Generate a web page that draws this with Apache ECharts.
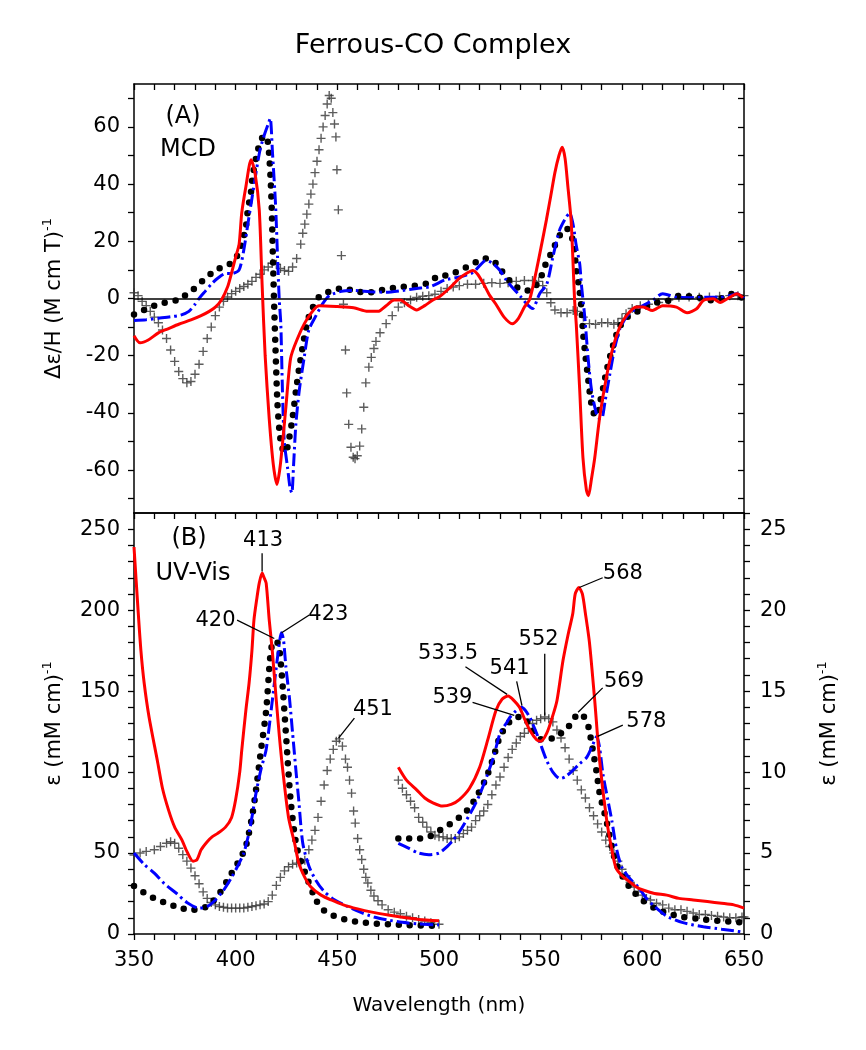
<!DOCTYPE html>
<html><head><meta charset="utf-8">
<script src="https://cdn.jsdelivr.net/npm/echarts@6/dist/echarts.min.js"></script>
<style>html,body{margin:0;padding:0;background:#fff}#c{width:866px;height:1050px}</style>
</head><body><div id="c"></div>
<script>
// ---------------- DATA ----------------
// Panel A: MCD  [wavelength nm, Δε/H]
const mcdRed = [[350,-13],[353,-15.5],[357,-14.5],[362,-12],[367,-10.5],[372,-9],[378,-7.5],[383,-6],[387,-4.5],[390,-3],[393,-0.5],[396,4],[398,9],[400,14.5],[401.7,19],[403,30],[405,39],[407.6,48.5],[409.5,44],[411.6,31],[413,5],[414.5,-20],[416.5,-42],[418.5,-58],[420.3,-65],[422,-58],[424.7,-38],[427,-21],[430,-14.7],[434.7,-7.7],[441,-2.5],[450,-2.8],[458,-3.2],[465,-4.5],[470,-4.5],[474,-2.5],[478,-0.5],[481,-0.5],[485,-2.5],[489,-4],[493,-2.5],[497,-0.5],[500,0.5],[505,3.5],[510,7],[514,9],[516.5,9.8],[519,8.5],[522,5],[525,1],[528,-2],[532,-6.5],[536,-8.8],[539,-7],[542,-3],[544.6,-0.3],[547.9,9.8],[550.5,19],[552.8,27.4],[555,36],[557,44],[559,50],[560.6,52.9],[562,49],[563.4,39],[565,27],[566.7,-0.7],[567.5,-8.9],[569.2,-32],[570.8,-55.7],[572.5,-67],[573.5,-69],[575,-63],[576.6,-55.7],[579,-41.6],[582.3,-27.6],[585.6,-17],[588.9,-10],[592.2,-6],[597,-3],[600.4,-3],[605,-4.2],[610,-2.5],[616.8,-3],[622,-5],[626.7,-3.6],[630,-0.7],[634.9,-0.1],[638.3,-1.4],[642,0],[646.5,1.7],[649.5,0.3]];
const mcdBlue = [[350,-7.7],[356,-7.4],[362,-6.9],[368,-6.4],[373,-5.8],[377,-4.5],[380,-2],[382,0],[385,2.5],[388,5],[391,7],[395,8.7],[398,8.7],[401.7,10],[404,17],[406,26],[408,35],[410,44],[412,52],[414,57],[416,61],[417,63],[418.1,51],[419.6,33],[420.6,14.5],[421.4,0],[422.2,-8.9],[423,-32],[423.9,-50],[425.5,-59],[426.7,-66],[427.6,-68],[428.5,-58],[429.6,-44],[431.3,-32],[433.7,-20.6],[436,-11],[439.5,-6],[442.8,-1.8],[446,1],[452,2.5],[458,2.8],[466,2.4],[474,2.2],[482,2.8],[489,3.5],[496,4.2],[503,6.5],[510,7.5],[516.5,9],[520,11.5],[523,13.3],[526,12.5],[530,9.8],[533,6.5],[536,3.9],[540,0.8],[543,-1.8],[546,-3.5],[549.5,1.7],[553,5],[556,14.5],[559.3,23.9],[562.6,28.5],[564.2,29.8],[565.9,26],[567.5,18.5],[569.2,12.1],[570,5],[571.7,-6.5],[573.3,-20.6],[575,-32],[577.5,-40.5],[579,-42],[580,-42],[581.7,-35.8],[584,-26.5],[586.5,-17],[589,-10.5],[592,-6.6],[595,-4.5],[598.8,-3],[605,-0.7],[610,1.7],[617,0.4],[624,0.3],[630,0.4],[638,0.4],[643,1],[646.5,1.7],[650,0]];
const mcdDots = [[350,-5.6],[355,-4],[360,-2.5],[365,-1.5],[370.6,-0.7],[373.6,0.4],[378,2.5],[382,5],[385,7],[388.4,9],[392,10.5],[397,12],[400,14],[402.5,18],[405,25],[406,31],[407.5,37],[408.3,42.6],[410.6,51],[412.3,55],[414,57],[415.5,56],[416.5,50],[417.3,40],[417.8,30],[418.3,15],[419,-4],[419.7,-20],[420.5,-36],[421.5,-46],[422.7,-52],[424.5,-54],[426,-50],[428,-41.6],[429.7,-32],[431.3,-24],[433.4,-15],[435.4,-7.7],[438,-3],[441,0.5],[447.5,2.8],[452.5,3.5],[458,2.8],[464,2],[472,3],[480.5,4],[490,4.6],[495,5.5],[498.6,7.4],[503,8],[507,8.8],[511,10],[515,11.6],[519,13],[523,14],[526,13.5],[528,12.3],[531,9.5],[534.7,6.3],[537,4.5],[539.6,3.5],[542,2.8],[544.6,2.8],[547,4],[549.5,6.3],[551.5,10],[553,13],[556,16.8],[558,20.4],[560.6,23.3],[562.5,24.5],[563.9,23.9],[565.5,21],[566.4,18],[567.5,9.8],[568.9,4],[570,-3],[570.9,-12.4],[572,-20],[573,-26],[573.8,-30.8],[574.6,-35.4],[576.3,-40.5],[578,-41],[579,-37],[580.8,-31],[582.5,-25],[585,-18],[587.4,-12.4],[590.7,-7.7],[595.6,-5],[598.8,-4.2],[605,-1.8],[613,-0.7],[618.5,1],[627,0.4],[634.7,-0.7],[640,0.3],[644.6,1.7],[649.5,0]];
const mcdCross = [[350,2],[352,1],[354,-1],[356,-2.5],[358,-4.5],[360,-6.5],[362,-8.5],[364,-11],[366,-14],[368,-18],[370,-22],[372,-25.5],[374,-28],[376,-29.5],[378,-29],[380,-26.5],[382,-23],[384,-18.5],[386,-14],[388,-10],[390,-6],[392,-3],[394,-1],[396,0.5],[398,1.7],[400,2.5],[402,3.5],[404,4.2],[406,5],[408,6],[410,7.4],[412,8.5],[414,10],[416,11],[418,12.3],[420,12],[422,10.5],[424,9.8],[426,9.5],[428,11],[430,14],[432,19],[433,22.8],[434,26],[435,29.5],[436,33],[437,36.5],[438,40],[439,44],[440,48],[441,52],[442,56],[443,60],[444,64],[445,68],[446,71],[447,70],[447.8,65],[448.6,61],[449.3,56.5],[449.8,45],[450.5,31],[452,15],[453,-2],[454,-18],[454.6,-33],[455.6,-44],[456.7,-52],[457.8,-55.5],[458.7,-56],[459.8,-55],[461,-51.6],[462,-45.6],[463,-38],[464,-29.5],[465.5,-24],[466.7,-20.6],[468,-17.5],[469,-15],[471,-12],[474,-8.8],[477,-6],[480,-3],[483,-1.5],[486,-0.5],[489,0.4],[492,0.8],[495,1],[498,1.5],[501,2.5],[504,3.5],[507,4],[510,4.5],[514,5],[518,5],[522,5.3],[526,5.5],[530,5.3],[534,5.5],[538,6],[542,6.3],[546,6.3],[549,6],[551,4.5],[553,2],[555,-1.5],[557,-4],[560,-5],[563,-5],[566,-4.2],[568,-4.5],[571,-6.5],[574,-8.8],[577,-9],[580,-8.5],[583,-8.5],[586,-9],[588,-8.5],[590,-7],[592,-5.3],[595,-3.5],[599,-2.5],[603,-2],[608,-1.4],[613,-0.5],[618,0.4],[623,0.5],[628,0.4],[633,0.5],[638,0.8],[643,1],[647,1],[650,1]];

// Panel B: UV-Vis, Soret region (left axis, ε mM^-1 cm^-1)
const uvRedSoret = [[350,239],[352,200],[353.4,175],[355,155],[357.4,134],[361.5,107],[364,90],[367,76.5],[370,66],[373.6,58],[376,51],[379,45],[381,46],[383,52],[386,57],[388.4,60],[391,62],[395,66],[398,72],[400,83],[402,100],[403,113.6],[405,138],[406.6,155],[408,175],[409,194],[410.5,208],[411.6,216.7],[413,223],[414,220],[415,216.7],[416.5,194],[418,175],[420,144],[421.5,122],[423,103],[426,72],[429,56],[431,44],[434,35],[437,29],[442,24],[447,21],[453,18],[460,15.5],[467,13.5],[475,11.7],[482,10.3],[490,9],[500,8.2]];
const uvBlueSoret = [[350,50],[355,43],[360,37.6],[365,31],[371,25],[376,19.5],[382,16],[386,17],[390,21],[394,27],[398,35],[401,42],[404,50],[407,65],[410,87],[412.5,102],[415,114],[418,144],[421,175],[422.5,186],[423.5,182],[424.7,165],[426.5,145],[428,124],[430,96],[431,83],[433,56],[436,42],[439.5,33],[443,27],[447.5,22],[455,17],[461,13.6],[468,10.5],[475,8.6],[482,7.2],[490,6.2],[500,5.6]];
const uvDotsSoret = [[350,29.6],[355,25.5],[360,22],[365,19.5],[371,16.7],[378,14.8],[383,15.5],[387,18],[392,25],[398,37.6],[402,46],[405,54],[408,72],[410,89],[412.5,114],[415,138],[417.3,175],[419,181],[420.5,180],[421.5,176],[423,155],[424.7,124],[427,83],[430,54],[435,35],[439.5,21],[443,15],[447.5,11.7],[455,8.5],[461,7.4],[468,6.5],[475,6],[485,5.5],[500,5]];
const uvCrossSoret = [[350,48.8],[353,50],[356,51],[360,52],[363,54],[366,56],[368,57],[370,56],[372,53],[374,49],[376,45],[378,40.7],[380,36],[382,31],[384,26],[386,22],[388,19.5],[390,18],[392,17],[394,16.5],[396,16],[398,16],[400,16],[402,16],[404,16],[406,16.5],[408,17],[410,17.5],[412,18],[414,18.5],[416,20],[418,24],[420,30],[422,35],[424,39],[426,41.5],[428,43],[430,43.8],[432,44.5],[434,45.5],[436,52],[437.5,58],[439,64],[440.5,72],[442,82],[443.5,92],[445,101],[446.5,108],[448,114],[449.5,119],[451,120.5],[452.5,116],[454,108],[455,103],[456,95],[457,87],[458,76],[458.8,68.5],[460,59],[461,52],[462,46],[463,40],[464,35],[465,31.5],[466.5,27],[468,23.5],[470,20.5],[472,18],[475,15],[478,13.5],[481,12.5],[484,11],[487,10],[490,9],[493,8],[496,7],[500,6]];

// Panel B: UV-Vis, visible region (right axis)
const uvRedVis = [[480,10.3],[484,9.5],[489,8.9],[493,8.4],[497,8.1],[501.7,7.9],[506,8.0],[510,8.3],[515,9.0],[520,10.3],[524,12.0],[528,13.8],[531,14.5],[534,14.7],[537,14.4],[539.6,14],[542,13.3],[544.6,12.6],[548,12],[550,11.9],[553,12.4],[556,13.5],[558,14.4],[561,16.9],[563.5,18.5],[565.8,19.8],[567,21],[568.8,21.4],[570.5,21],[572,19.8],[574,18],[576.6,14.4],[579,10.7],[582.5,7],[585,5.2],[587,4.1],[590,3.6],[593,3.3],[597,2.9],[600.7,2.7],[606,2.5],[612,2.4],[618,2.2],[625,2.1],[632,2.0],[639,1.9],[645,1.8],[650,1.6]];
const uvBlueVis = [[480,5.6],[485,5.3],[490,5.0],[495,4.9],[500,5.0],[504,5.4],[507,5.8],[511,6.5],[516.5,7.7],[520,8.6],[523.4,9.7],[527,11],[530,12.4],[533,13],[535,13.4],[538,13.8],[540.6,14],[542.5,13.8],[544.6,13.4],[546,13],[548,12.4],[550,11.7],[553,10.7],[556,10],[559.4,9.6],[562,9.7],[565.8,10.1],[569,10.5],[572.6,10.9],[575,11.5],[577.6,12.2],[579,11.5],[580.6,9.9],[583,8.3],[585,7],[587.4,5.2],[590,4.1],[594,3.4],[598,2.9],[602,2.2],[606,1.7],[612,1.1],[620,0.7],[630,0.45],[639,0.3],[645,0.2],[650,0.1]];
const uvDotsVis = [[480,5.9],[485,5.9],[490,5.9],[495,6.0],[499,6.3],[503,6.6],[506.7,6.9],[511,7.3],[515,7.8],[519,8.6],[523.4,9.7],[527,11],[530,12.2],[534,13.0],[538,13.4],[541,13.4],[543,13.2],[546,12.6],[548,12.2],[551,12.0],[556,12.1],[560,12.4],[563,12.7],[566,13.2],[568.4,13.6],[570.5,13.5],[572.6,13.2],[574,12.5],[575.6,11.4],[577.5,10],[579,8.7],[582.5,6.9],[585,5.4],[587,4.4],[591,3.4],[595,2.7],[600,2.1],[606,1.6],[612,1.3],[620,1.05],[630,0.9],[639,0.8],[645,0.75],[650,0.7]];
const uvCrossVis = [[480,9.5],[482,9.0],[484,8.6],[486,8.2],[488,7.8],[490,7.2],[492,6.9],[494,6.6],[496,6.3],[498,6.1],[500,6.0],[502,6.0],[504,5.9],[506,5.9],[508,5.9],[510,6.0],[512,6.2],[514,6.4],[516,6.6],[518,7.0],[520,7.3],[522,7.6],[524,8.0],[526,8.6],[528,9.2],[530,9.7],[532,10.3],[534,10.9],[536,11.4],[538,11.8],[540,12.2],[542,12.4],[544,12.7],[546,13.0],[548,13.2],[550,13.3],[552,13.4],[554,13.3],[556,13.1],[558,12.6],[560,12.1],[562,11.5],[564,10.8],[566,10.1],[568,9.5],[570,8.9],[572,8.4],[574,7.8],[576,7.3],[578,6.8],[580,6.3],[582,5.8],[584,5.4],[586,5.0],[588,4.5],[590,4.0],[592,3.6],[594,3.2],[596,2.9],[598,2.6],[600,2.4],[602,2.2],[604,2.1],[607,1.9],[610,1.8],[613,1.6],[616,1.5],[619,1.5],[622,1.4],[625,1.3],[628,1.2],[631,1.2],[634,1.15],[637,1.1],[640,1.05],[643,1.0],[646,1.0],[649,1.05],[650,1.05]];

// Tick labels
const xTickLabels = [350,400,450,500,550,600,650];
const mcdTickLabels = [-60,-40,-20,0,20,40,60];
const uvLeftTickLabels = [0,50,100,150,200,250];
const uvRightTickLabels = [0,5,10,15,20,25];

// Peak annotations: label, axis (0 = left/Soret, 1 = right/visible)
const peakLabels = ['413','420','423','451','533.5','541','539','552','569','578','568'];
const peakAxis   = [0,0,0,0,1,1,1,1,1,1,1];

// ---------------- LAYOUT ----------------
const FONT = 'DejaVu Sans';
const GA = {left:134, top:84, width:610, height:429};
const GB = {left:134, top:513, width:610, height:421};
// annotation text anchor and leader line ends (data coords)
const annoLayout = [
  {t:[413.5,243.2], l:[413,235.2,413,223.8]},
  {t:[390.1,193.8], l:[400.7,193.8,419,182.5]},
  {t:[445.6,197],   l:[436.2,197,422.6,186]},
  {t:[467.5,138.9], l:[458.4,133.3,450.6,121]},
  {t:[504.5,17.3],  l:[513,16.5,533.5,14.8]},
  {t:[534.7,16.4],  l:[538.2,15.6,540.8,14.1]},
  {t:[506.6,14.6],  l:[516.5,14.3,537,13.5]},
  {t:[549,18.2],    l:[552,17.3,552,13.5]},
  {t:[591,15.6],    l:[580.5,15.2,568.4,13.7]},
  {t:[602,13.1],    l:[590.4,12.9,578,12.2]},
  {t:[590.4,22.25], l:[580.5,22.0,569,21.4]}
];

function range(a,b,s){const r=[];for(let v=a;v<=b+1e-9;v+=s)r.push(+v.toFixed(6));return r;}
const AX_LINE = {show:true, onZero:false, lineStyle:{color:'#000', width:1.5}};
const TICK_STYLE = {color:'#000', width:1.3};
const LABEL_STYLE = {color:'#000', fontSize:21, fontFamily:FONT};
const NAME_STYLE = {color:'#000', fontSize:21, fontFamily:FONT,
  rich:{sup:{fontSize:13, fontFamily:FONT, color:'#000', padding:[0,0,14,0]}}};

const xBase = {type:'value', min:350, max:650, splitLine:{show:false}, axisLine:AX_LINE};
const xAxis = [
  Object.assign({}, xBase, {gridIndex:0, position:'bottom', axisTick:{show:false}, axisLabel:{show:false}}),
  Object.assign({}, xBase, {gridIndex:0, position:'top', axisTick:{show:true, inside:true, length:6, customValues:range(350,650,10), lineStyle:TICK_STYLE}, axisLabel:{show:false}}),
  Object.assign({}, xBase, {gridIndex:1, position:'bottom',
    axisTick:{show:true, inside:false, length:6, customValues:range(350,650,10), lineStyle:TICK_STYLE},
    axisLabel:Object.assign({show:true, margin:16, customValues:xTickLabels}, LABEL_STYLE),
    name:'Wavelength (nm)', nameLocation:'middle', nameGap:62, nameTextStyle:{color:'#000', fontSize:20, fontFamily:FONT}}),
  Object.assign({}, xBase, {gridIndex:1, position:'top', axisTick:{show:true, inside:true, length:6, customValues:range(350,650,10), lineStyle:TICK_STYLE}, axisLabel:{show:false}})
];
const yAxis = [
  {type:'value', gridIndex:0, position:'left', min:-75, max:75, splitLine:{show:false}, axisLine:AX_LINE,
   axisTick:{show:true, inside:false, length:6, customValues:range(-70,70,10), lineStyle:TICK_STYLE},
   axisLabel:Object.assign({show:true, margin:14, customValues:mcdTickLabels}, LABEL_STYLE),
   name:'Δε/H (M cm T){sup|-1}', nameLocation:'middle', nameGap:66, nameRotate:90, nameTextStyle:NAME_STYLE},
  {type:'value', gridIndex:0, position:'right', min:-75, max:75, splitLine:{show:false}, axisLine:AX_LINE,
   axisTick:{show:true, inside:true, length:6, customValues:range(-70,70,10), lineStyle:TICK_STYLE},
   axisLabel:{show:false}},
  {type:'value', gridIndex:1, position:'left', min:0, max:260, splitLine:{show:false}, axisLine:AX_LINE,
   axisTick:{show:true, inside:false, length:6, customValues:range(0,250,10), lineStyle:TICK_STYLE},
   axisLabel:Object.assign({show:true, margin:14, customValues:uvLeftTickLabels}, LABEL_STYLE),
   name:'ε (mM cm){sup|-1}', nameLocation:'middle', nameGap:66, nameRotate:90, nameTextStyle:NAME_STYLE},
  {type:'value', gridIndex:1, position:'right', min:0, max:26, splitLine:{show:false}, axisLine:AX_LINE,
   axisTick:{show:true, inside:false, length:6, customValues:range(0,26,1), lineStyle:TICK_STYLE},
   axisLabel:Object.assign({show:true, margin:16, customValues:uvRightTickLabels}, LABEL_STYLE),
   name:'ε (mM cm){sup|-1}', nameLocation:'middle', nameGap:72, nameRotate:90, nameTextStyle:NAME_STYLE}
];

const PLUS = 'path://M3.8,0H5.2V3.8H9V5.2H5.2V9H3.8V5.2H0V3.8H3.8Z';
const RED = {color:'#ff0000', width:3};
const BLUE = {color:'#0000ff', width:3, type:[13,4,2.5,4]};
const DOTS = {color:'#000', width:6.5, type:[0,11], cap:'round'};

const series = [];
function addLine(data, xi, yi, ls, z, extra){
  series.push(Object.assign({type:'line', xAxisIndex:xi, yAxisIndex:yi, data:data, symbol:'none', showSymbol:false,
    smooth:0.25, lineStyle:ls, z:z, silent:true, animation:false}, extra||{}));
}
function addCross(data, xi, yi){
  series.push({type:'scatter', xAxisIndex:xi, yAxisIndex:yi, data:data, symbol:PLUS, symbolSize:9,
    itemStyle:{color:'#333'}, z:2, silent:true, animation:false});
}
// Panel A
addCross(mcdCross,0,0);
addLine(mcdDots,0,0,DOTS,3);
addLine(mcdBlue,0,0,BLUE,4);
addLine(mcdRed,0,0,RED,5,{markLine:{silent:true, symbol:['none','none'], label:{show:false},
  lineStyle:{color:'#000', width:1.5, type:'solid'}, data:[{yAxis:0}]}});
// Panel B
addCross(uvCrossSoret,2,2); addCross(uvCrossVis,2,3);
addLine(uvDotsSoret,2,2,DOTS,3); addLine(uvDotsVis,2,3,DOTS,3);
addLine(uvBlueSoret,2,2,BLUE,4); addLine(uvBlueVis,2,3,BLUE,4);
addLine(uvRedSoret,2,2,RED,5); addLine(uvRedVis,2,3,RED,5);
// Annotations
peakLabels.forEach((txt,i)=>{
  const L = annoLayout[i], yi = peakAxis[i] ? 3 : 2;
  series.push({type:'line', xAxisIndex:2, yAxisIndex:yi, data:[[L.l[0],L.l[1]],[L.l[2],L.l[3]]],
    symbol:'none', lineStyle:{color:'#000', width:1.3}, z:8, silent:true, animation:false});
  series.push({type:'scatter', xAxisIndex:2, yAxisIndex:yi, data:[{value:L.t}], symbolSize:0,
    itemStyle:{color:'#000'}, z:9, silent:true, animation:false,
    label:{show:true, position:'inside', formatter:txt, color:'#000', opacity:1, textBorderWidth:0,
           fontSize:21, fontFamily:FONT}});
});

function gText(txt,x,y,size){
  return {type:'text', x:x, y:y, silent:true,
    style:{text:txt, fill:'#000', fontSize:size, fontFamily:FONT, align:'center', verticalAlign:'middle',
           textAlign:'center', textVerticalAlign:'middle'}};
}

const chart = echarts.init(document.getElementById('c'), null, {renderer:'canvas', width:866, height:1050});
chart.setOption({
  animation:false,
  backgroundColor:'#fff',
  title:{text:'Ferrous-CO Complex', left:'center', top:27,
    textStyle:{fontSize:27, fontWeight:'normal', fontFamily:FONT, color:'#000'}},
  grid:[GA, GB],
  xAxis:xAxis, yAxis:yAxis, series:series,
  graphic:[gText('(A)',183,117,24), gText('MCD',188,150,24), gText('(B)',189,539,24), gText('UV-Vis',193,574,24)]
});
</script></body></html>
